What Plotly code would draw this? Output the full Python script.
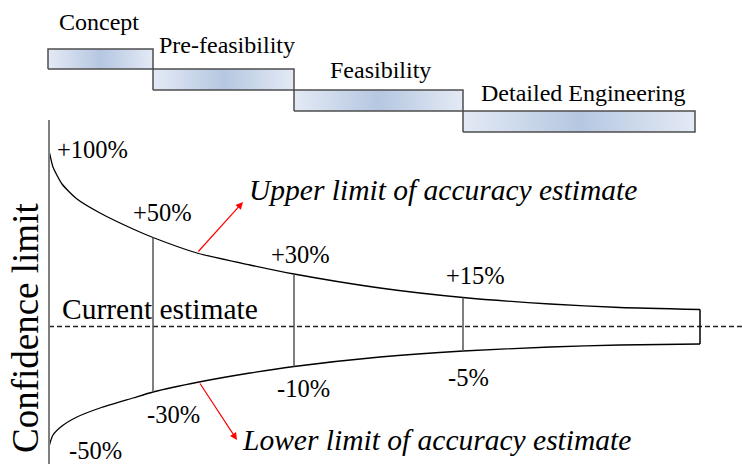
import plotly.graph_objects as go

# Project stages and where each one sits along the progress axis
stages = ["Concept", "Pre-feasibility", "Feasibility", "Detailed Engineering"]
stage_start = [-1, 104, 245, 414]
stage_end = [104, 245, 414, 646]
stage_top = [278, 258, 237, 216]
stage_bottom = [258, 237, 216, 195]

# Accuracy range quoted at each stage gate
gate_x = [104, 245, 414]
upper_pct = ["+100%", "+50%", "+30%", "+15%"]
lower_pct = ["-50%", "-30%", "-10%", "-5%"]

# Envelope of the estimate (schematic confidence-limit units)
upper_x = [0, 1, 4, 13, 28, 51, 84, 104, 148, 201, 245, 331, 414, 501, 571, 651]
upper_y = [176, 172, 160, 143, 128, 114, 98, 89.5, 74, 62, 53, 39, 29.5, 23, 19.5, 17.5]
lower_x = [0, 1, 4, 13, 28, 51, 84, 104, 150, 201, 245, 331, 414, 501, 571, 651]
lower_y = [-120, -116, -108, -99, -90, -81, -71, -65, -55, -46, -39.5, -30, -24, -20, -18, -17]
funnel_end = 651

SERIF = "Liberation Serif"

fig = go.Figure()

# Stage bars with a soft horizontal blue gradient
for s0, s1, t, b in zip(stage_start, stage_end, stage_top, stage_bottom):
    fig.add_trace(go.Scatter(
        x=[s0, s1, s1, s0, s0], y=[b, b, t, t, b],
        mode="lines", fill="toself",
        fillgradient=dict(type="horizontal",
                          colorscale=[[0, "#e4eaf5"], [0.5, "#b5c7e1"], [1, "#e4eaf5"]]),
        line=dict(color="#4d4d4d", width=1.5),
        hoverinfo="skip", showlegend=False))

# Current estimate reference line
fig.add_trace(go.Scatter(x=[0, 693], y=[0.5, 0.5], mode="lines",
                         line=dict(color="#222222", width=1.3, dash="5px,3px"),
                         hoverinfo="skip", showlegend=False))

# Upper and lower accuracy limits
for xs, ys in [(upper_x, upper_y), (lower_x, lower_y)]:
    fig.add_trace(go.Scatter(x=xs, y=ys, mode="lines",
                             line=dict(color="black", width=1.3, shape="spline", smoothing=0.6),
                             hoverinfo="skip", showlegend=False))

# Stage-gate verticals between the limits
def interp(xs, ys, x):
    for i in range(len(xs) - 1):
        if xs[i] <= x <= xs[i + 1]:
            f = (x - xs[i]) / (xs[i + 1] - xs[i])
            return ys[i] + f * (ys[i + 1] - ys[i])
    return ys[-1]

for gx in gate_x:
    fig.add_trace(go.Scatter(x=[gx, gx], y=[interp(upper_x, upper_y, gx), interp(lower_x, lower_y, gx)],
                             mode="lines", line=dict(color="#555555", width=1.5),
                             hoverinfo="skip", showlegend=False))
fig.add_trace(go.Scatter(x=[funnel_end, funnel_end], y=[upper_y[-1], lower_y[-1]],
                         mode="lines", line=dict(color="black", width=1.5),
                         hoverinfo="skip", showlegend=False))

# Vertical axis line
fig.add_trace(go.Scatter(x=[0, 0], y=[207, -140], mode="lines",
                         line=dict(color="#7f7f7f", width=2),
                         hoverinfo="skip", showlegend=False))

ann = []
def label(x, y, text, size, angle=0):
    ann.append(dict(x=x, y=y, text=text, showarrow=False, xanchor="center", yanchor="middle",
                    textangle=angle, font=dict(family=SERIF, size=size, color="black")))

stage_label_pos = [(50, 305), (178, 282), (331, 257), (534, 234)]
for name, (lx, ly) in zip(stages, stage_label_pos):
    label(lx, ly, name, 24)

upper_label_pos = [(43, 178), (113, 115), (251, 73), (426, 52)]
lower_label_pos = [(46, -123), (124, -87), (254, -61), (419, -50)]
for t, (lx, ly) in zip(upper_pct, upper_label_pos):
    label(lx, ly, t, 24.5)
for t, (lx, ly) in zip(lower_pct, lower_label_pos):
    label(lx, ly, t, 24.5)

label(111, 18, "Current estimate", 29.5)
label(394, 137, "<i>Upper limit of accuracy estimate</i>", 29.5)
label(387, -113, "<i>Lower limit of accuracy estimate</i>", 29.5)
label(-24, -1, "Confidence limit", 37, angle=-90)

# Red pointers from each limit to its caption
for (x0, y0, x1, y1) in [(148, 74, 194, 125), (150, -55, 188, -113)]:
    ann.append(dict(x=x1, y=y1, ax=x0, ay=y0, xref="x", yref="y", axref="x", ayref="y",
                    text="", showarrow=True, arrowhead=2, arrowsize=1.2, arrowwidth=1.2,
                    arrowcolor="red", standoff=0, startstandoff=0))

fig.update_layout(
    width=742, height=464,
    margin=dict(l=0, r=0, t=0, b=0),
    paper_bgcolor="white", plot_bgcolor="white",
    xaxis=dict(range=[-49, 693], visible=False, fixedrange=True),
    yaxis=dict(range=[-137, 327], visible=False, fixedrange=True),
    annotations=ann,
)

fig.write_html("out.html")
